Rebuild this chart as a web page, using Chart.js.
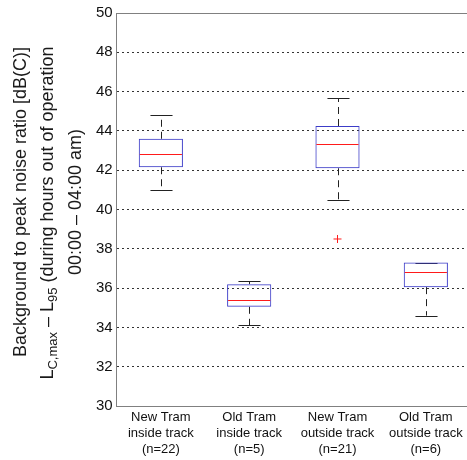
<!DOCTYPE html>
<html>
<head>
<meta charset="utf-8">
<script src="https://cdn.jsdelivr.net/npm/chart.js@4.4.1/dist/chart.umd.min.js"></script>
<style>
html, body { margin: 0; padding: 0; background: #fff; overflow: hidden; }
#wrap { width: 475px; height: 460px; position: relative; }
</style>
</head>
<body>
<div id="wrap"><canvas id="box-chart"></canvas></div>
<script>
// Kategori dan nilai box plot
const categories = [
    ['New Tram', 'inside track', '(n=22)'],
    ['Old Tram', 'inside track', '(n=5)'],
    ['New Tram', 'outside track', '(n=21)'],
    ['Old Tram', 'outside track', '(n=6)']
];
const whiskerLow = [41.0, 34.1, 40.5, 34.6];
const q1 = [42.15, 35.05, 42.1, 36.05];
const median = [42.85, 35.4, 43.35, 36.8];
const q3 = [43.6, 36.2, 44.25, 37.3];
const whiskerHigh = [44.8, 36.35, 45.65, 37.3];
const outliers = [null, null, 38.5, null];
const yTicks = [30, 32, 34, 36, 38, 40, 42, 44, 46, 48, 50];

const FONT = 'Liberation Sans, Arial, sans-serif';

// Whisker (garis putus-putus) digambar di belakang kotak
const whiskerPlugin = {
    id: 'whiskers',
    beforeDatasetsDraw(chart) {
        const { ctx, scales: { y } } = chart;
        const meta = chart.getDatasetMeta(0);
        ctx.save();
        ctx.strokeStyle = '#222';
        ctx.lineWidth = 1;
        meta.data.forEach((bar, i) => {
            const cx = Math.round(bar.x) + 0.5;
            const capHalf = bar.width / 4;
            ctx.setLineDash([7, 5]);
            ctx.beginPath();
            ctx.moveTo(cx, y.getPixelForValue(q3[i]));
            ctx.lineTo(cx, y.getPixelForValue(whiskerHigh[i]));
            ctx.moveTo(cx, y.getPixelForValue(q1[i]));
            ctx.lineTo(cx, y.getPixelForValue(whiskerLow[i]));
            ctx.stroke();
            ctx.setLineDash([]);
            ctx.beginPath();
            const yh = Math.round(y.getPixelForValue(whiskerHigh[i])) + 0.5;
            const yl = Math.round(y.getPixelForValue(whiskerLow[i])) + 0.5;
            ctx.moveTo(cx - capHalf, yh);
            ctx.lineTo(cx + capHalf, yh);
            ctx.moveTo(cx - capHalf, yl);
            ctx.lineTo(cx + capHalf, yl);
            ctx.stroke();
        });
        ctx.restore();
    },
    afterDatasetsDraw(chart) {
        const { ctx, chartArea, scales: { y } } = chart;
        const meta = chart.getDatasetMeta(0);
        ctx.save();
        // median merah
        ctx.strokeStyle = '#ff1a1a';
        ctx.lineWidth = 1;
        meta.data.forEach((bar, i) => {
            const ym = Math.round(y.getPixelForValue(median[i])) + 0.5;
            ctx.beginPath();
            ctx.moveTo(bar.x - bar.width / 2 + 1, ym);
            ctx.lineTo(bar.x + bar.width / 2 - 1, ym);
            ctx.stroke();
        });
        // garis bingkai atas
        ctx.strokeStyle = '#808080';
        ctx.beginPath();
        ctx.moveTo(chartArea.left, Math.round(chartArea.top) + 0.5);
        ctx.lineTo(chartArea.right, Math.round(chartArea.top) + 0.5);
        ctx.stroke();
        ctx.restore();
    }
};

// Judul sumbu Y tiga baris dengan subscript
const yTitlePlugin = {
    id: 'yTitle',
    afterDraw(chart) {
        const lines = [
            { x: 21, cy: 202, parts: [['Background to peak noise ratio [dB(C)]', false]] },
            { x: 48, cy: 213, parts: [['L', false], ['C,max', true], [' \u2013 L', false], ['95', true], [' (during hours out of operation', false]] },
            { x: 76, cy: 202, parts: [['00:00 \u2013 04:00 am)', false]] }
        ];
        const ctx = chart.ctx;
        ctx.save();
        ctx.fillStyle = '#1a1a1a';
        ctx.textBaseline = 'middle';
        ctx.textAlign = 'left';
        lines.forEach(line => {
            const fonts = line.parts.map(p => p[1] ? '13px ' + FONT : '18px ' + FONT);
            let total = 0;
            const widths = line.parts.map((p, k) => {
                ctx.font = fonts[k];
                const w = ctx.measureText(p[0]).width;
                total += w;
                return w;
            });
            ctx.save();
            ctx.translate(line.x, line.cy);
            ctx.rotate(-Math.PI / 2);
            let pos = -total / 2;
            line.parts.forEach((p, k) => {
                ctx.font = fonts[k];
                ctx.fillText(p[0], pos, p[1] ? 5 : 0);
                pos += widths[k];
            });
            ctx.restore();
        });
        ctx.restore();
    }
};

function initializeChart() {
    new Chart(document.getElementById('box-chart'), {
        type: 'bar',
        data: {
            labels: categories,
            datasets: [{
                data: categories.map((_, i) => [q1[i], q3[i]]),
                backgroundColor: 'rgba(0,0,0,0)',
                borderColor: '#3c3cc8',
                borderWidth: 1,
                borderSkipped: false,
                barPercentage: 0.5,
                categoryPercentage: 1.0
            }, {
                type: 'line',
                data: outliers,
                showLine: false,
                pointStyle: 'cross',
                pointRadius: 4,
                borderColor: '#ff1a1a',
                borderWidth: 1
            }]
        },
        options: {
            responsive: true,
            maintainAspectRatio: false,
            animation: false,
            layout: { padding: { left: 92, right: 2, top: 6, bottom: 0 } },
            plugins: {
                legend: { display: false },
                tooltip: { enabled: false }
            },
            scales: {
                y: {
                    min: 30,
                    max: 50,
                    afterBuildTicks: axis => { axis.ticks = yTicks.map(v => ({ value: v })); },
                    grid: {
                        drawTicks: false,
                        color: ctx => (ctx.tick && (ctx.tick.value === 50 || ctx.tick.value === 30)) ? 'rgba(0,0,0,0)' : '#333'
                    },
                    border: { color: '#808080', dash: [2, 3] },
                    ticks: {
                        color: '#111',
                        padding: 4,
                        font: { family: FONT, size: 15 }
                    }
                },
                x: {
                    grid: { display: false, drawTicks: false },
                    border: { color: '#808080' },
                    ticks: {
                        color: '#111',
                        padding: 3,
                        maxRotation: 0,
                        autoSkip: false,
                        font: { family: FONT, size: 13, lineHeight: 1.23 }
                    }
                }
            }
        },
        plugins: [whiskerPlugin, yTitlePlugin]
    });
}

window.addEventListener('load', initializeChart);
</script>
</body>
</html>
